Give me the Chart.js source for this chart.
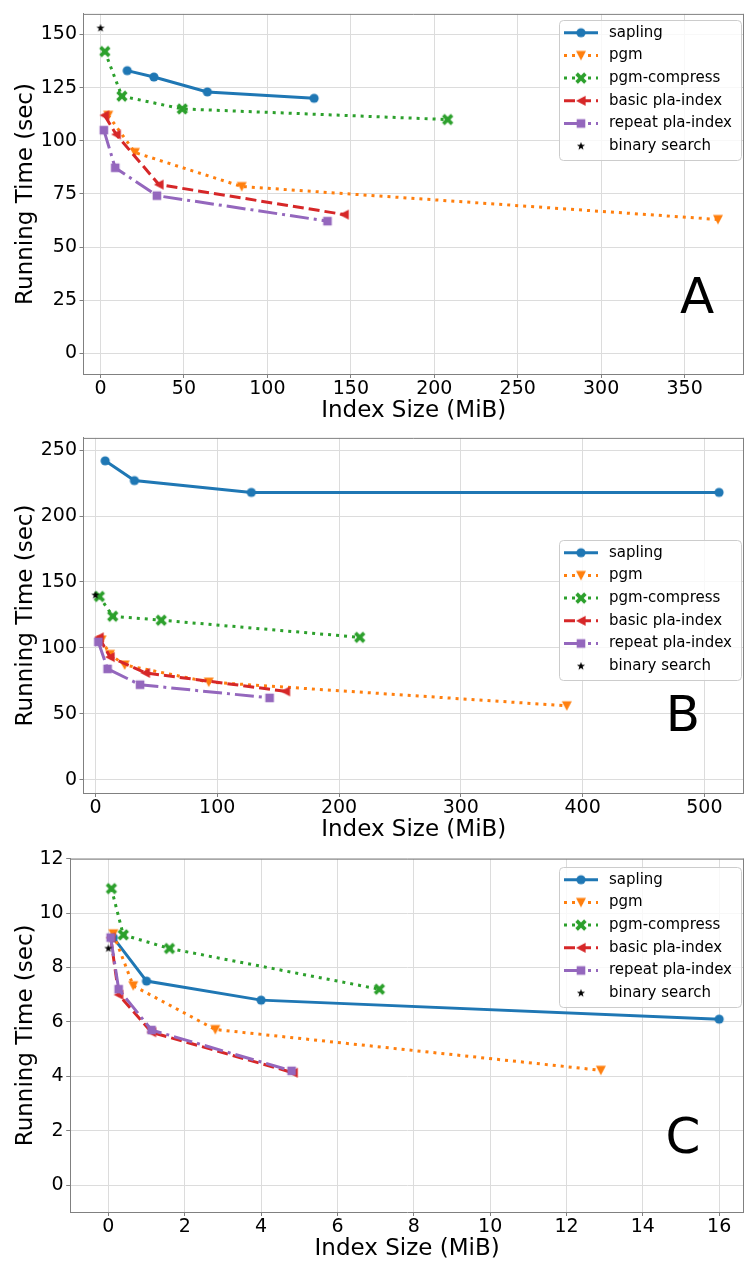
<!DOCTYPE html>
<html>
<head>
<meta charset="utf-8">
<script src="https://cdn.jsdelivr.net/npm/chart.js@4.4.1/dist/chart.umd.min.js"></script>
<style>
html, body { margin: 0; padding: 0; background: #fff; }
#wrap { position: relative; width: 744px; height: 1262px; overflow: hidden; }
canvas { position: absolute; left: 0; }
</style>
</head>
<body>
<div id="wrap">
  <canvas id="chartA" width="744" height="424" style="top:0px"></canvas>
  <canvas id="chartB" width="744" height="419" style="top:424px"></canvas>
  <canvas id="chartC" width="744" height="419" style="top:843px"></canvas>
</div>
<script>
var names = ['sapling', 'pgm', 'pgm-compress', 'basic pla-index', 'repeat pla-index', 'binary search'];

// panel A  [index size MiB, running time sec]
var saplingA = [[16, 133], [32, 130], [64, 123], [128, 120]];
var pgmA = [[4.6, 112], [20.6, 94.5], [84.6, 78.5], [370, 63]];
var pgmCompressA = [[2.6, 142], [12.8, 121], [49, 115], [208, 110]];
var basicA = [[2.4, 112], [9.4, 103], [35, 79.4], [146, 65.3]];
var repeatA = [[2, 105], [8.8, 87.3], [33.8, 74.2], [136, 62.2]];
var binaryA = [[0, 153]];
var xTicksA = [0, 50, 100, 150, 200, 250, 300, 350];
var yTicksA = [0, 25, 50, 75, 100, 125, 150];

// panel B
var saplingB = [[8, 242], [32, 227], [128, 218], [512, 218]];
var pgmB = [[5, 106], [12, 95], [24, 87], [93, 74], [387, 56]];
var pgmCompressB = [[3.2, 139], [14.2, 124], [54, 121], [217, 108]];
var basicB = [[3, 108], [12, 93], [41, 81], [156, 67]];
var repeatB = [[2.4, 104.5], [10, 84], [36.6, 72], [143, 62]];
var binaryB = [[0, 140]];
var xTicksB = [0, 100, 200, 300, 400, 500];
var yTicksB = [0, 50, 100, 150, 200, 250];

// panel C
var saplingC = [[0.13, 9.1], [1, 7.5], [4, 6.8], [16, 6.1]];
var pgmC = [[0.13, 9.24], [0.65, 7.33], [2.8, 5.72], [12.9, 4.22]];
var pgmCompressC = [[0.08, 10.9], [0.39, 9.2], [1.6, 8.7], [7.1, 7.2]];
var basicC = [[0.06, 9.1], [0.27, 7.0], [1.13, 5.62], [4.84, 4.13]];
var repeatC = [[0.06, 9.1], [0.27, 7.2], [1.13, 5.7], [4.8, 4.2]];
var binaryC = [[0, 8.7]];
var xTicksC = [0, 2, 4, 6, 8, 10, 12, 14, 16];
var yTicksC = [0, 2, 4, 6, 8, 10, 12];

var colors = ['#1f77b4', '#ff7f0e', '#2ca02c', '#d62728', '#9467bd', '#000000'];
var dashes = [[], [3, 5], [3, 5], [11, 5], [19, 5, 3, 5], []];
var shapes = ['o', 'v', 'X', '<', 's', '*'];
var font = 'DejaVu Sans';

// little canvases used as point styles, shaped like the matplotlib markers
function marker(kind, color) {
    var c = document.createElement('canvas');
    c.width = 14; c.height = 14;
    var g = c.getContext('2d');
    g.fillStyle = color;
    g.translate(7, 7);
    g.beginPath();
    if (kind == 'o') {
        g.arc(0, 0, 4.6, 0, Math.PI * 2);
    } else if (kind == 'v') {
        g.moveTo(-5, -4.6); g.lineTo(5, -4.6); g.lineTo(0, 5); g.closePath();
    } else if (kind == '<') {
        g.moveTo(-5, 0); g.lineTo(4.6, -5); g.lineTo(4.6, 5); g.closePath();
    } else if (kind == 's') {
        g.rect(-4.3, -4.3, 8.6, 8.6);
    } else if (kind == 'X') {
        g.rotate(Math.PI / 4);
        g.rect(-6.2, -1.8, 12.4, 3.6);
        g.rect(-1.8, -6.2, 3.6, 12.4);
    } else if (kind == '*') {
        for (var k = 0; k < 10; k++) {
            var r = k % 2 ? 1.7 : 4.3;
            var a = -Math.PI / 2 + k * Math.PI / 5;
            g.lineTo(r * Math.cos(a), r * Math.sin(a));
        }
        g.closePath();
    }
    g.fill();
    return c;
}
var markers = shapes.map(function(s, i) { return marker(s, colors[i]); });

var framePlugin = {
    id: 'frame',
    afterDatasetsDraw: function(chart) {
        var a = chart.chartArea, ctx = chart.ctx;
        ctx.save();
        ctx.strokeStyle = '#808080';
        ctx.lineWidth = 1;
        ctx.beginPath();
        ctx.moveTo(a.left, a.top + 0.5); ctx.lineTo(a.right, a.top + 0.5);
        ctx.moveTo(a.right - 0.5, a.top); ctx.lineTo(a.right - 0.5, a.bottom);
        ctx.stroke();
        ctx.restore();
    }
};

var legendPlugin = {
    id: 'mplLegend',
    afterDraw: function(chart, args, opts) {
        var ctx = chart.ctx, x = opts.x, y = opts.y, w = 182, h = 140;
        ctx.save();
        ctx.beginPath();
        ctx.roundRect(x + 0.5, y + 0.5, w, h, 4);
        ctx.fillStyle = 'rgba(255,255,255,0.8)';
        ctx.fill();
        ctx.strokeStyle = '#cccccc';
        ctx.lineWidth = 1;
        ctx.stroke();
        chart.data.datasets.forEach(function(ds, i) {
            var ry = y + 12.7 + i * 22.7;
            if (ds.showLine) {
                ctx.setLineDash(ds.borderDash);
                ctx.strokeStyle = ds.borderColor;
                ctx.lineWidth = ds.borderWidth;
                ctx.beginPath();
                ctx.moveTo(x + 5, ry); ctx.lineTo(x + 39, ry);
                ctx.stroke();
                ctx.setLineDash([]);
            }
            var m = ds.pointStyle;
            ctx.drawImage(m, x + 22 - m.width / 2, ry - m.height / 2);
            ctx.fillStyle = '#000';
            ctx.font = '15px "' + font + '"';
            ctx.textBaseline = 'middle';
            ctx.fillText(ds.label, x + 50, ry);
        });
        // panel letter
        ctx.font = '50px "' + font + '"';
        ctx.textAlign = 'center';
        ctx.textBaseline = 'middle';
        ctx.fillText(opts.letter, opts.lx, opts.ly);
        ctx.restore();
    }
};

function makeChart(id, series, xRange, yRange, xTicks, yTicks, geo) {
    var datasets = series.map(function(pts, i) {
        return {
            label: names[i],
            data: pts.map(function(p) { return {x: p[0], y: p[1]}; }),
            borderColor: colors[i],
            backgroundColor: colors[i],
            borderWidth: 3,
            borderDash: dashes[i],
            showLine: i < 5,
            pointStyle: markers[i],
            pointRadius: 5,
            order: 10 - i
        };
    });
    var tickFont = {family: font, size: 19};
    var titleFont = {family: font, size: 23, lineHeight: 1};
    return new Chart(document.getElementById(id), {
        type: 'scatter',
        data: {datasets: datasets},
        plugins: [framePlugin, legendPlugin],
        options: {
            responsive: false,
            animation: false,
            devicePixelRatio: 1,
            layout: {autoPadding: false, padding: {top: geo.top, right: 0, left: 0, bottom: 0}},
            plugins: {
                legend: {display: false},
                tooltip: {enabled: false},
                mplLegend: {x: geo.lgx, y: geo.lgy, letter: geo.letter, lx: geo.lx, ly: geo.ly}
            },
            scales: {
                x: {
                    type: 'linear', min: xRange[0], max: xRange[1],
                    afterBuildTicks: function(s) { s.ticks = xTicks.map(function(v) { return {value: v}; }); },
                    afterFit: function(s) { s.height = 50; },
                    ticks: {font: tickFont, color: '#000', padding: 0, maxRotation: 0, autoSkip: false},
                    grid: {color: '#dcdcdc', lineWidth: 1, tickLength: 4, tickColor: '#808080'},
                    border: {color: '#808080', width: 1},
                    title: {display: true, text: 'Index Size (MiB)', font: titleFont, color: '#000', padding: {top: 0, bottom: 1}}
                },
                y: {
                    type: 'linear', min: yRange[0], max: yRange[1],
                    afterBuildTicks: function(s) { s.ticks = yTicks.map(function(v) { return {value: v}; }); },
                    afterFit: function(s) { s.width = geo.left; },
                    ticks: {font: tickFont, color: '#000', padding: 2.5},
                    grid: {color: '#dcdcdc', lineWidth: 1, tickLength: 4, tickColor: '#808080'},
                    border: {color: '#808080', width: 1},
                    title: {display: true, text: 'Running Time (sec)', font: titleFont, color: '#000', padding: {top: 14.5, bottom: 0}}
                }
            }
        }
    });
}

makeChart('chartA', [saplingA, pgmA, pgmCompressA, basicA, repeatA, binaryA],
    [-10.2, 385.6], [-9.7, 159.7], xTicksA, yTicksA,
    {top: 12.7, left: 83.5, lgx: 559, lgy: 20, letter: 'A', lx: 697, ly: 300});
makeChart('chartB', [saplingB, pgmB, pgmCompressB, basicB, repeatB, binaryB],
    [-9.8, 532.5], [-10.2, 259.4], xTicksB, yTicksB,
    {top: 7.7, left: 83.5, lgx: 559, lgy: 116, letter: 'B', lx: 683, ly: 294});
makeChart('chartC', [saplingC, pgmC, pgmCompressC, basicC, repeatC, binaryC],
    [-1.0, 16.65], [-0.99, 12], xTicksC, yTicksC,
    {top: 15.7, left: 70.2, lgx: 559, lgy: 24, letter: 'C', lx: 683, ly: 297});
</script>
</body>
</html>
